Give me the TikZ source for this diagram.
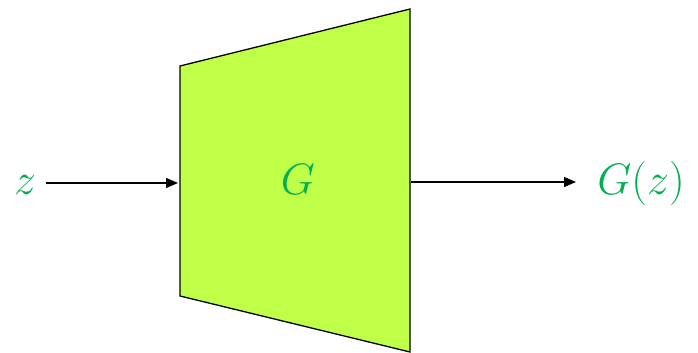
\documentclass[tikz,border=0pt]{standalone}
\usepackage{graphicx}
\usetikzlibrary{arrows.meta}
\definecolor{lbl}{HTML}{00B050}
\definecolor{lime}{HTML}{C0FF48}
\newcommand{\biglbl}[1]{\scalebox{1.77}{\Huge$#1$}}
\tikzset{
  lbltext/.style={text=lbl, inner sep=0pt},
  conn/.style={line width=1.3pt, -{Triangle[length=12pt,width=10pt]}},
  trap/.style={fill=lime, draw=black, line width=1.3pt, line join=miter}
}
\begin{document}
\begin{tikzpicture}[x=1pt,y=-1pt]
\useasboundingbox (0,0) rectangle (698,353);
\draw[trap] (180,66) -- (410,9) -- (410,352) -- (180,296) -- cycle;
\coordinate (inL) at (178,183);
\coordinate (outR) at (411,182);
\node[lbltext, anchor=base] (z) at (25,194) {\biglbl{z}};
\node[lbltext, anchor=base] (G) at (298,194) {\biglbl{G}};
\node[lbltext, anchor=base] (Gz) at (641,194) {\biglbl{G(z)}};
\draw[conn] (46,183) -- (inL);
\draw[conn] (outR) -- (576,182);
\end{tikzpicture}
\end{document}
